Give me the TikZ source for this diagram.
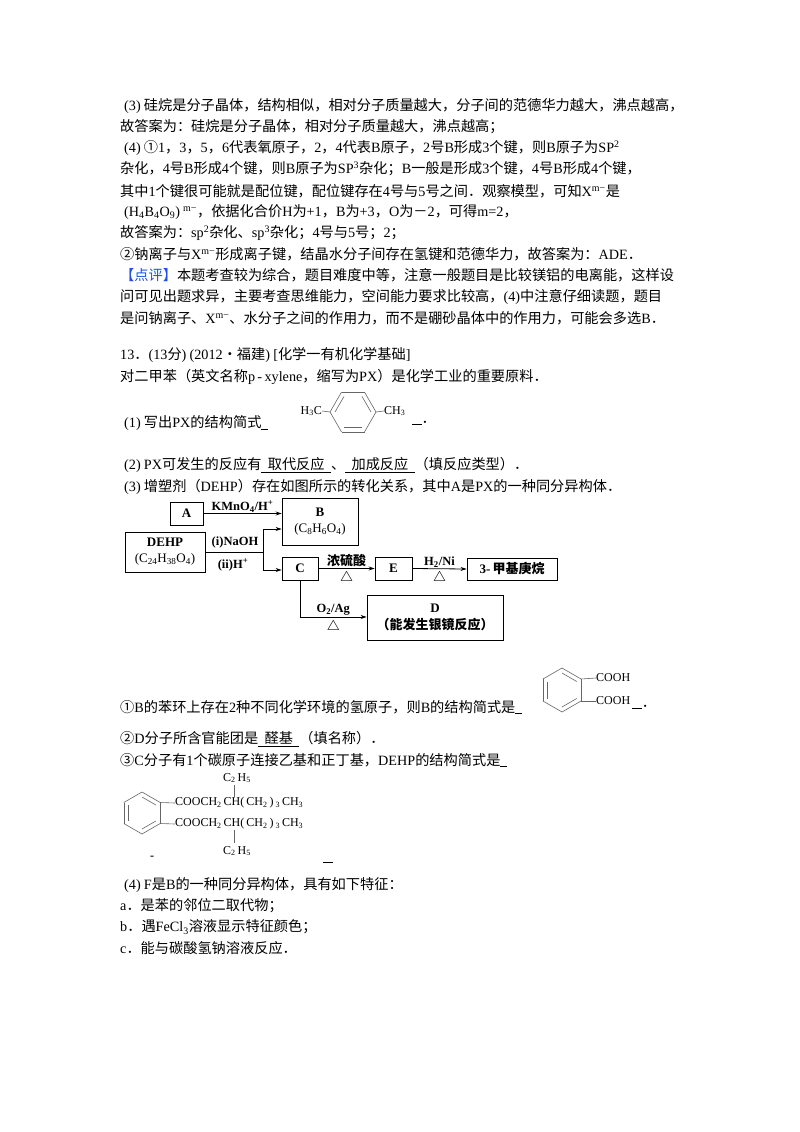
\documentclass[tikz,border=0pt]{standalone}
\usepackage{fontspec}
\setmainfont{Noto Sans CJK SC}
\newfontfamily\lat{Liberation Serif}
\newfontfamily\cjkf{Noto Sans CJK SC}
\newcommand\lt[1]{{\lat #1}}
\newcommand\sbs[1]{\textsubscript{#1}}
\newcommand\sps[1]{\textsuperscript{#1}}
\newcommand\tri{{\cjkf\bfseries △}}
\usetikzlibrary{arrows.meta,calc}
\definecolor{dpblue}{RGB}{30,80,230}
\begin{document}
\begin{tikzpicture}[x=1pt,y=-1pt,
 t/.style={anchor=west,inner sep=0,font=\fontsize{14.2}{17}\selectfont},
 fb/.style={draw,line width=0.9pt,inner sep=0,font=\lat\bfseries\fontsize{13}{15}\selectfont,align=center},
 fl/.style={inner sep=0,font=\lat\bfseries\fontsize{12.5}{14}\selectfont},
 ar/.style={line width=0.8pt,-{Stealth[length=6pt,width=4pt]}},
 st/.style={inner sep=0,font=\lat\fontsize{12}{14}\selectfont,anchor=west},
 bond/.style={line width=0.6pt,gray!80!black}]
\useasboundingbox (0,0) rectangle (800,1132);
\fill[white] (0,0) rectangle (800,1132);
\node[t] (l1) at (124,106) {\lt{(3)} 硅烷是分子晶体，结构相似，相对分子质量越大，分子间的范德华力越大，沸点越高，};
\node[t] (l2) at (120,127) {故答案为：硅烷是分子晶体，相对分子质量越大，沸点越高；};
\node[t] (l3) at (124,148) {\lt{(4)} ①\lt{1}，\lt{3}，\lt{5}，\lt{6}代表氧原子，\lt{2}，\lt{4}代表\lt{B}原子，\lt{2}号\lt{B}形成\lt{3}个键，则\lt{B}原子为\lt{SP\sps{2}}};
\node[t] (l4) at (120,169) {杂化，\lt{4}号\lt{B}形成\lt{4}个键，则\lt{B}原子为\lt{SP\sps{3}}杂化；\lt{B}一般是形成\lt{3}个键，\lt{4}号\lt{B}形成\lt{4}个键，};
\node[t] (l5) at (120,191) {其中\lt{1}个键很可能就是配位键，配位键存在\lt{4}号与\lt{5}号之间．观察模型，可知\lt{X\sps{m−}}是};
\node[t] (l6) at (124,212) {\lt{(H\sbs{4}B\sbs{4}O\sbs{9})}\ \lt{\sps{m−}}，依据化合价\lt{H}为\lt{+1}，\lt{B}为\lt{+3}，\lt{O}为－\lt{2}，可得\lt{m=2}，};
\node[t] (l7) at (120,233) {故答案为：\lt{sp\sps{2}}杂化、\lt{sp\sps{3}}杂化；\lt{4}号与\lt{5}号；\lt{2}；};
\node[t] (l8) at (120,254) {②钠离子与\lt{X\sps{m−}}形成离子键，结晶水分子间存在氢键和范德华力，故答案为：\lt{ADE}．};
\node[t] (l9) at (120,275) {\textcolor{dpblue}{【点评】}本题考查较为综合，题目难度中等，注意一般题目是比较镁铝的电离能，这样设};
\node[t] (l10) at (120,297) {问可见出题求异，主要考查思维能力，空间能力要求比较高，\lt{(4)}中注意仔细读题，题目};
\node[t] (l11) at (120,318) {是问钠离子、\lt{X\sps{m−}}、水分子之间的作用力，而不是硼砂晶体中的作用力，可能会多选\lt{B}．};

\node[t] (q13) at (120,355) {\lt{13}．\lt{(13}分\lt{)}\ \lt{(2012}•福建\lt{)}\ \lt{[}化学一有机化学基础\lt{]}};
\node[t] (q0) at (120,377) {对二甲苯（英文名称\lt{p\,-\,xylene}，缩写为\lt{PX}）是化学工业的重要原料．};
\node[t] (q1) at (124,423) {\lt{(1)} 写出\lt{PX}的结构简式\underline{\ \ }};
\node[t] (q1e) at (412,423) {\underline{\ \ \ }．};
% PX structure
\coordinate (px) at (353,412);
\foreach \a in {0,60,...,300}{\draw[bond] ($(px)+(\a:23 and -23)$) -- ($(px)+(\a+60:23 and -23)$);}
\draw[bond] ($(px)+(0:18 and -18)$) -- ($(px)+(60:18 and -18)$);
\draw[bond] ($(px)+(120:18 and -18)$) -- ($(px)+(180:18 and -18)$);
\draw[bond] ($(px)+(240:18 and -18)$) -- ($(px)+(300:18 and -18)$);
\node[st,anchor=east] (h3c) at (322,411) {H\sbs{3}C};
\node[st] (ch3) at (384,411) {CH\sbs{3}};
\draw[bond] (h3c.east) -- ($(px)+(180:23 and -23)$);
\draw[bond] (ch3.west) -- ($(px)+(0:23 and -23)$);
\node[t] (q2) at (124,465) {\lt{(2)} \lt{PX}可发生的反应有\underline{\ \ 取代反应\ \ }、\underline{\ \ 加成反应\ \ }（填反应类型）．};
\node[t] (q3) at (124,487) {\lt{(3)} 增塑剂（\lt{DEHP}）存在如图所示的转化关系，其中\lt{A}是\lt{PX}的一种同分异构体．};
% flowchart
\node[fb,minimum width=33pt,minimum height=23pt] (A) at (186.5,513.5) {A};
\node[fb,minimum width=76pt,minimum height=47pt] (B) at (320,521.5) {B\\[1pt] \mdseries(C\sbs{8}H\sbs{6}O\sbs{4})};
\node[fb,minimum width=80pt,minimum height=40pt] (DEHP) at (165,552) {DEHP\\[1pt] \mdseries(C\sbs{24}H\sbs{38}O\sbs{4})};
\node[fb,minimum width=36pt,minimum height=23pt] (C) at (300,568.5) {C};
\node[fb,minimum width=37pt,minimum height=23pt] (E) at (393.5,568.5) {E};
\node[fb,minimum width=90pt,minimum height=22pt,font=\bfseries\fontsize{13}{15}\selectfont] (M) at (512,569) {\lt{3-}\,甲基庚烷};
\node[fb,minimum width=136pt,minimum height=45pt] (D) at (435,617.5) {D\\[2pt] {\cjkf\bfseries（能发生银镜反应）}};
\draw[ar] (A.east) -- node[fl,above=1pt]{KMnO\sbs{4}/H\sps{+}} (B.west|-A.east);
\coordinate (br) at (263,552);
\draw[line width=0.8pt] (DEHP.east) -- (br);
\draw[ar] (263,529) -- (B.west|-0,529);
\draw[ar] (263,529) -- (263,570) -- (C.west|-0,570);
\node[fl] at (235,542) {(i)NaOH};
\node[fl] at (233,565) {(ii)H\sps{+}};
\draw[ar] (C.east) -- node[fl,above=1pt,font=\bfseries\fontsize{13}{15}\selectfont]{浓硫酸} node[fl,below=2pt]{\tri} (E.west);
\draw[ar] (E.east) -- node[fl,above=1pt]{H\sbs{2}/Ni} node[fl,below=2pt]{\tri} (M.west);
\draw[ar] (C.south) -- (300,617) -- node[fl,above=1pt]{O\sbs{2}/Ag} node[fl,below=3pt]{\tri} (D.west|-0,617);
% (3) answers
\node[t] (a1) at (120,707) {①\lt{B}的苯环上存在\lt{2}种不同化学环境的氢原子，则\lt{B}的结构简式是\underline{\ \ }};
\node[t] (a1e) at (632,707) {\underline{\ \ \ }．};
\coordinate (pa) at (562,690);
\foreach \a in {30,90,...,330}{\draw[bond] ($(pa)+(\a:22 and -22)$) -- ($(pa)+(\a+60:22 and -22)$);}
\draw[bond] ($(pa)+(30:17 and -17)$) -- ($(pa)+(90:17 and -17)$);
\draw[bond] ($(pa)+(-30:17 and -17)$) -- ($(pa)+(-90:17 and -17)$);
\draw[bond] ($(pa)+(210:17 and -17)$) -- ($(pa)+(150:17 and -17)$);
\node[st] (cooh1) at (596,678) {COOH};
\node[st] (cooh2) at (596,701) {COOH};
\draw[bond] ($(pa)+(30:22 and -22)$) -- (cooh1.west);
\draw[bond] ($(pa)+(-30:22 and -22)$) -- (cooh2.west);
\node[t] (a2) at (120,739) {②\lt{D}分子所含官能团是\underline{\ \ 醛基\ \ }（填名称）．};
\node[t] (a3) at (120,760) {③\lt{C}分子有\lt{1}个碳原子连接乙基和正丁基，\lt{DEHP}的结构简式是\underline{\ \ }};
% DEHP structure
\coordinate (pd) at (142,813);
\foreach \a in {30,90,...,330}{\draw[bond] ($(pd)+(\a:21 and -21)$) -- ($(pd)+(\a+60:21 and -21)$);}
\draw[bond] ($(pd)+(30:16 and -16)$) -- ($(pd)+(90:16 and -16)$);
\draw[bond] ($(pd)+(-30:16 and -16)$) -- ($(pd)+(-90:16 and -16)$);
\draw[bond] ($(pd)+(210:16 and -16)$) -- ($(pd)+(150:16 and -16)$);
\node[st] (r1) at (175,803) {COOCH\sbs{2}\,CH(\,CH\sbs{2}\,)\,\sbs{3}\,CH\sbs{3}};
\node[st] (r2) at (175,824) {COOCH\sbs{2}\,CH(\,CH\sbs{2}\,)\,\sbs{3}\,CH\sbs{3}};
\draw[bond] ($(pd)+(30:21 and -21)$) -- (r1.west);
\draw[bond] ($(pd)+(-30:21 and -21)$) -- (r2.west);
\node[st,anchor=center] (e1) at (237,778) {C\sbs{2}\,H\sbs{5}};
\node[st,anchor=center] (e2) at (237,851) {C\sbs{2}\,H\sbs{5}};
\draw[bond] (234,785) -- (r1.north-|234,0);
\draw[bond] (r2.south-|234,0) -- (234,843);
\node[st] (dash) at (150,858) {\textbf{-}};
\node[t] (a3e) at (323,862) {\underline{\ \ \ }};
\node[t] (q4) at (124,885) {\lt{(4)} \lt{F}是\lt{B}的一种同分异构体，具有如下特征：};
\node[t] (qa) at (120,906) {\lt{a}．是苯的邻位二取代物；};
\node[t] (qb) at (120,927) {\lt{b}．遇\lt{FeCl\sbs{3}}溶液显示特征颜色；};
\node[t] (qc) at (120,948) {\lt{c}．能与碳酸氢钠溶液反应．};
\end{tikzpicture}
\end{document}
